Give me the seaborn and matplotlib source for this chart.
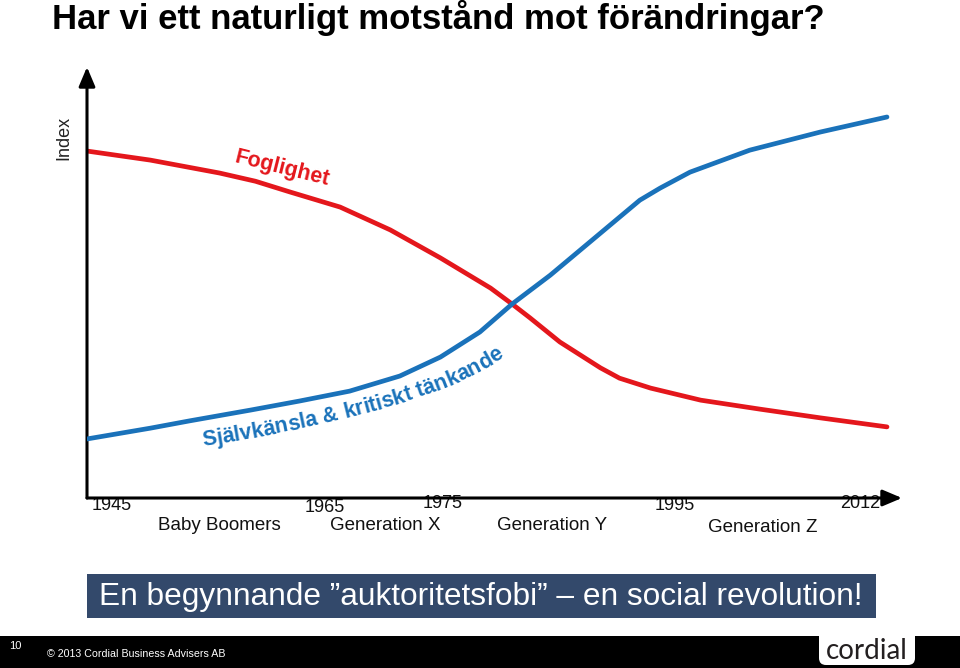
import numpy as np
import pandas as pd
import matplotlib
matplotlib.use("Agg")
import matplotlib.pyplot as plt
import seaborn as sns
from matplotlib.patches import Rectangle, FancyBboxPatch
from matplotlib.font_manager import FontProperties

# ---------------- data ----------------
red_years = [1945.0, 1950.3, 1956.1, 1959.1, 1962.0, 1966.2, 1970.4, 1974.6, 1978.8,
             1980.7, 1982.1, 1984.6, 1988.0, 1989.6, 1992.2, 1996.4, 2001.4, 2006.4, 2012.0]
red_index = [80.5, 78.4, 75.4, 73.5, 71.0, 67.5, 62.2, 55.7, 48.7,
             44.8, 41.8, 36.2, 30.2, 27.8, 25.5, 22.7, 20.6, 18.6, 16.5]
blue_years = [1945.0, 1950.3, 1953.6, 1958.7, 1962.8, 1967.0, 1971.2, 1974.6, 1977.9,
              1980.6, 1983.8, 1986.3, 1991.3, 1993.0, 1995.5, 2000.5, 2006.4, 2012.0]
blue_index = [13.7, 16.2, 17.9, 20.4, 22.5, 24.8, 28.3, 32.7, 38.5,
              45.0, 51.7, 57.5, 69.1, 71.9, 75.6, 80.7, 84.9, 88.4]
year_labels = ["1945", "1965", "1975", "1995", "2012"]
generation_labels = ["Baby Boomers", "Generation X", "Generation Y", "Generation Z"]
red_label = "Foglighet"
blue_label = "Självkänsla & kritiskt tänkande"
title = "Har vi ett naturligt motstånd mot förändringar?"
banner = "En begynnande ”auktoritetsfobi” – en social revolution!"
footer = "© 2013 Cordial Business Advisers AB"
page_no = "10"
logo = "cordial"

RED = "#E4171C"
BLUE = "#1A72BA"

sns.set_theme(style="white")
plt.rcParams["font.family"] = ["Liberation Sans", "DejaVu Sans"]

W, H = 960, 668
fig = plt.figure(figsize=(9.6, 6.68), dpi=100)

# overlay axes in pixel coordinates for slide decoration
ov = fig.add_axes([0, 0, 1, 1])
ov.set_xlim(0, W)
ov.set_ylim(H, 0)
ov.axis("off")
ov.patch.set_alpha(0)

# ---------------- chart axes ----------------
x0, x1, y0, y1 = 87, 902, 498, 67
ax = fig.add_axes([x0 / W, 1 - y0 / H, (x1 - x0) / W, (y0 - y1) / H])
ax.patch.set_alpha(0)
px_per_year = 11.94
ax.set_xlim(1945, 1945 + (x1 - x0) / px_per_year)
ax.set_ylim(0, 100)

df_red = pd.DataFrame({"year": red_years, "index": red_index})
df_blue = pd.DataFrame({"year": blue_years, "index": blue_index})
sns.lineplot(data=df_red, x="year", y="index", ax=ax, color=RED, linewidth=3.4,
             estimator=None, sort=True, zorder=3, solid_joinstyle="round")
sns.lineplot(data=df_blue, x="year", y="index", ax=ax, color=BLUE, linewidth=3.4,
             estimator=None, sort=True, zorder=4, solid_joinstyle="round")
ax.set_xticks([])
ax.set_yticks([])
ax.set_xlabel("")
ax.set_ylabel("")
for s in ax.spines.values():
    s.set_visible(False)

arrow = dict(arrowstyle="-|>,head_length=0.9,head_width=0.38", lw=2.2, color="black",
             shrinkA=0, shrinkB=0, mutation_scale=13)
ax.annotate("", xy=(0, 1.0), xytext=(0, 0), xycoords="axes fraction",
            textcoords="axes fraction", arrowprops=arrow, annotation_clip=False)
ax.annotate("", xy=(1.0, 0), xytext=(0, 0), xycoords="axes fraction",
            textcoords="axes fraction", arrowprops=arrow, annotation_clip=False)

# ---------------- texts ----------------
ov.text(52, 18, title, fontsize=25, fontweight="bold", color="black", ha="left", va="center")
ov.text(64, 138, "Index", fontsize=13, rotation=90, ha="center", va="center", color="#222222")

year_pos = [(112, 505), (325, 507), (443, 504), (675, 506), (860, 504)]
for lab, (x, y) in zip(year_labels, year_pos):
    ov.text(x, y, lab, fontsize=13, ha="center", va="center", color="#111111")
gen_pos = [(219, 526), (385, 526), (552, 526), (763, 528)]
for lab, (x, y) in zip(generation_labels, gen_pos):
    ov.text(x, y, lab, fontsize=13.5, ha="center", va="center", color="#111111")

ov.text(282, 169, red_label, fontsize=15.5, fontweight="bold", color=RED, rotation=-14,
        ha="center", va="center", rotation_mode="anchor")

# curved blue label along a quadratic Bezier baseline (pixel coords)
P0 = np.array([203.0, 446.0])
C = np.array([427.0, 411.0])
P2 = np.array([505.0, 356.0])
tt = np.linspace(0, 1, 2000)
pts = ((1 - tt) ** 2)[:, None] * P0 + (2 * (1 - tt) * tt)[:, None] * C + (tt ** 2)[:, None] * P2
seg = np.hypot(np.diff(pts[:, 0]), np.diff(pts[:, 1]))
arc = np.concatenate([[0], np.cumsum(seg)])
renderer = fig.canvas.get_renderer()
fp = FontProperties(family=["Liberation Sans", "DejaVu Sans"], weight="bold", size=15.5)
ref_w = renderer.get_text_width_height_descent("||", fp, ismath=False)[0]
widths = [renderer.get_text_width_height_descent("|" + ch + "|", fp, ismath=False)[0] - ref_w
          for ch in blue_label]
total = sum(widths)
scale = min(1.0, arc[-1] / total)
pos = 0.0
for ch, w in zip(blue_label, widths):
    s = pos + w * scale / 2
    pos += w * scale
    if ch == " ":
        continue
    i = int(np.clip(np.searchsorted(arc, s), 1, len(arc) - 1))
    x, y = pts[i]
    dx, dy = pts[i] - pts[i - 1]
    ang = np.degrees(np.arctan2(-dy, dx))
    ov.text(x, y, ch, fontproperties=fp, color=BLUE, rotation=ang, ha="center",
            va="baseline", rotation_mode="anchor")

# banner
ov.add_patch(Rectangle((87, 574), 876 - 87, 44, facecolor="#33496B", edgecolor="none"))
ov.text(481, 597, banner, fontsize=22.8, color="white", ha="center", va="center")

# footer
ov.add_patch(Rectangle((0, 636), W, H - 636, facecolor="black", edgecolor="none"))
ov.add_patch(FancyBboxPatch((819, 626), 96, 39, boxstyle="round,pad=0,rounding_size=7",
                            facecolor="white", edgecolor="none"))
ov.text(15, 646, page_no, fontsize=8, color="white", ha="center", va="center")
ov.text(47, 654, footer, fontsize=7.7, color="white", ha="left", va="center")
ov.text(867, 651, logo, fontsize=20, color="#231F20", ha="center", va="center",
        family=["Lato", "DejaVu Sans"])

fig.savefig("out.png", dpi=100)
